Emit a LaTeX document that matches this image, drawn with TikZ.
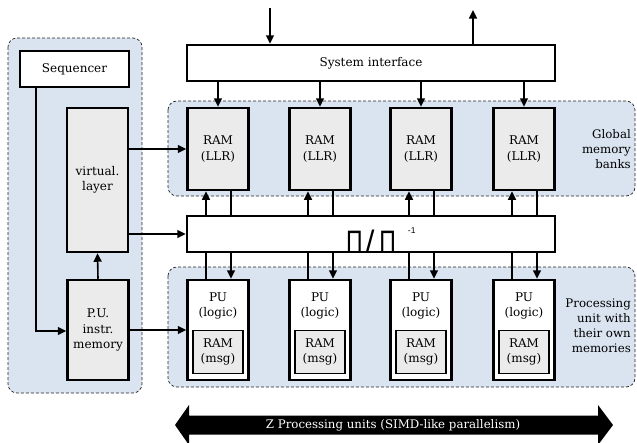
\documentclass[tikz,border=0pt]{standalone}
\usepackage{graphicx}
\usepackage{fontspec}
\setmainfont{DejaVu Serif}
\newfontfamily\pifont{Liberation Sans}
\usetikzlibrary{arrows.meta,calc}

\definecolor{regionblue}{RGB}{218,228,241}
\definecolor{boxgray}{RGB}{235,235,235}

\tikzset{
  x=1pt, y=-1pt,
  region/.style={draw=black!85, line width=0.7pt, dash pattern=on 3pt off 2pt,
                 rounded corners=9pt, fill=regionblue},
  blockbox/.style={draw=black, line width=2.5pt, fill=white, inner sep=0pt,
                   align=center, font=\fontsize{12}{15.5}\selectfont},
  graybox/.style={blockbox, fill=boxgray},
  innerbox/.style={draw=black, line width=1.4pt, fill=boxgray, inner sep=0pt,
                   align=center, font=\fontsize{12}{15}\selectfont},
  link/.style={draw=black, line width=1.6pt},
  arrowlink/.style={link, -{Triangle[length=8.5pt,width=8pt]}},
  sidelabel/.style={anchor=east, align=right, inner sep=0pt,
                    font=\fontsize{11.8}{15}\selectfont},
}

\begin{document}
\begin{tikzpicture}
\useasboundingbox (0,0) rectangle (637,442);

% shaded groups
\draw[region] (8,38) rectangle (142,393);
\draw[region] (168,101) rectangle (635,196);
\draw[region] (168,267) rectangle (635,387);

% control column
\node[blockbox, minimum width=109pt, minimum height=36pt] (seq) at (74.5,69) {Sequencer};
\node[graybox, minimum width=61pt, minimum height=144pt] (virt) at (97.5,180) {virtual.\\layer};
\node[graybox, minimum width=61pt, minimum height=100pt] (pui) at (98,330) {P.U.\\instr.\\memory};

% system interface and permutation network
\node[blockbox, minimum width=368pt, minimum height=36pt] (sys) at (371,63) {System interface};
\node[blockbox, minimum width=368pt, minimum height=36pt] (perm) at (371,234) {};
\node[anchor=base west, inner sep=0pt] (pilabel) at (346,252)
  {{\pifont\fontsize{31}{31}\selectfont\scalebox{0.74}[1]{Π}\hspace{3pt}/\hspace{5pt}\scalebox{0.74}[1]{Π}}\hspace{12pt}\raisebox{19pt}{\pifont\fontsize{8.5}{8.5}\selectfont -1}};

% memory banks and processing units
\foreach \i/\cx in {1/218,2/320,3/421,4/524}{
  \node[graybox, minimum width=61pt, minimum height=82pt] (r\i) at (\cx,149) {RAM\\(LLR)};
  \node[blockbox, minimum width=61pt, minimum height=100pt] (pu\i) at (\cx,330) {};
  \node[innerbox, minimum width=50pt, minimum height=43pt] (m\i) at (\cx,352) {RAM\\(msg)};
  \node[inner sep=0pt, align=center, font=\fontsize{12}{15}\selectfont] (pl\i) at (\cx,306) {PU\\(logic)};
  \coordinate (ra\i) at ([xshift=-12pt]r\i.south);
  \coordinate (rb\i) at ([xshift=13pt]r\i.south);
  \draw[arrowlink] (sys.south -| r\i.north) -- (r\i.north);
  \draw[arrowlink] (ra\i |- perm.north) -- (ra\i);
  \draw[link] (rb\i) -- (rb\i |- perm.north);
  \draw[link] (ra\i |- pu\i.north) -- (ra\i |- perm.south);
  \draw[arrowlink] (rb\i |- perm.south) -- (rb\i |- pu\i.north);
}

% external interface
\coordinate (extin) at (270,8);
\coordinate (extout) at (473,10);
\draw[arrowlink] (extin) -- (extin |- sys.north);
\draw[arrowlink] (extout |- sys.north) -- (extout);

% control flow
\coordinate (seqturn) at (36,331);
\draw[arrowlink] (seq.south -| seqturn) -- (seqturn) -- (seqturn -| pui.west);
\draw[arrowlink] (pui.north) -- (virt.south);
\draw[arrowlink] (virt.east |- r1.west) -- (r1.west);
\draw[arrowlink] (virt.east |- perm.west) -- (perm.west);
\draw[arrowlink] (pui.east |- pu1.west) -- (pu1.west);

% side labels
\node[sidelabel] (glab) at (631,149) {Global\\memory\\banks};
\node[sidelabel] (plab) at (631,326) {Processing\\unit with\\their own\\memories};

% SIMD width arrow
\fill[black] (175,425) -- (189,405) -- (189,415.5) -- (598,415.5) -- (598,405)
  -- (613,425) -- (598,445) -- (598,434.5) -- (189,434.5) -- (189,445) -- cycle;
\node[text=white, inner sep=0pt, font=\fontsize{11.8}{14}\selectfont] (zlab) at (393,425)
  {Z Processing units (SIMD-like parallelism)};
\end{tikzpicture}
\end{document}
